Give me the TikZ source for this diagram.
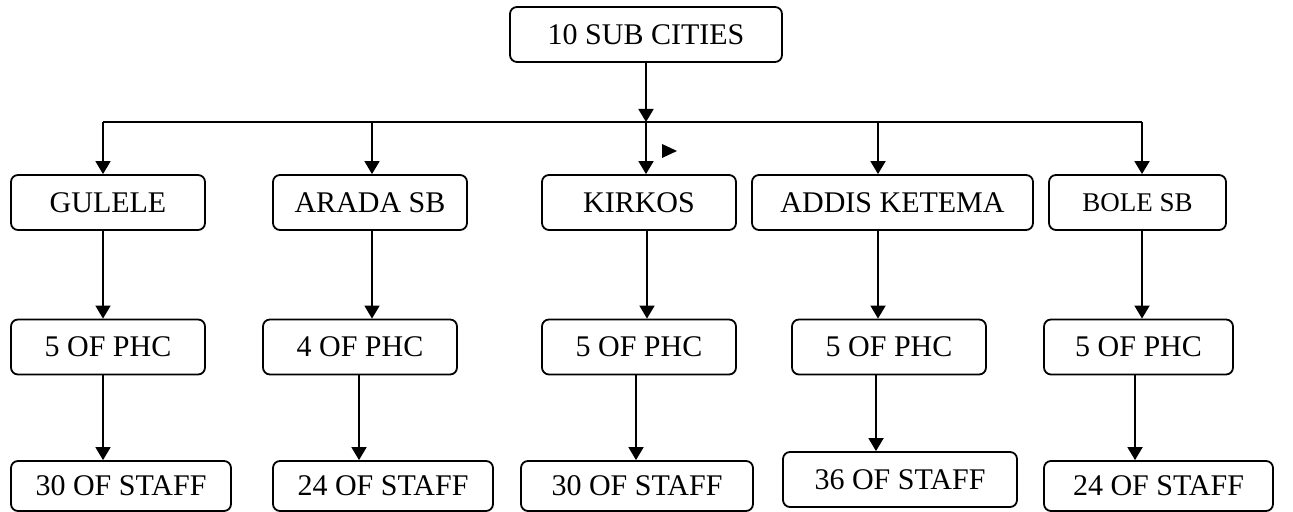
\documentclass[tikz,border=0pt]{standalone}
\usepackage{fontspec}
\setmainfont{Liberation Serif}
\usetikzlibrary{arrows.meta, positioning, calc}

\begin{document}
\begin{tikzpicture}[
    x=0.5pt, y=0.5pt,
    every node/.style={font=\fontsize{15}{18}\selectfont},
    box/.style={rectangle, rounded corners=3.5pt, draw, line width=0.9pt, align=center, inner sep=0pt, minimum height=27.5pt},
    arr/.style={-{Triangle[length=6.5pt, width=7.5pt]}, line width=0.9pt}
]
\useasboundingbox (0,0) rectangle (1293,512);

\node[box, minimum width=136pt] (top) at (646,477.5) {10 SUB CITIES};

% sub cities
\node[box, minimum width=97pt] (gul) at (108,309.5) {GULELE};
\node[box, minimum width=97pt] (arada) at (370,309.5) {ARADA SB};
\node[box, minimum width=97pt] (kirkos) at (639,309.5) {KIRKOS};
\node[box, minimum width=140.5pt] (addis) at (892.5,309.5) {ADDIS KETEMA};
\node[box, minimum width=88.5pt, font=\fontsize{13.5}{16}\selectfont] (bole) at (1137.5,309.5) {BOLE SB};

% health centres
\node[box, minimum width=97pt] (gulp) at (108,165) {5 OF PHC};
\node[box, minimum width=97pt] (aradap) at (360,165) {4 OF PHC};
\node[box, minimum width=97pt] (kirkosp) at (639,165) {5 OF PHC};
\node[box, minimum width=97pt] (addisp) at (889,165) {5 OF PHC};
\node[box, minimum width=94.5pt] (bolep) at (1138.5,165) {5 OF PHC};

% staff
\node[box, minimum width=110pt, minimum height=25pt] (gulst) at (121,26) {30 OF STAFF};
\node[box, minimum width=110pt, minimum height=25pt] (aradast) at (383,26) {24 OF STAFF};
\node[box, minimum width=116pt, minimum height=25pt] (kirkosst) at (637,26) {30 OF STAFF};
\node[box, minimum width=117pt] (addisst) at (900,32.5) {36 OF STAFF};
\node[box, minimum width=114.5pt, minimum height=25pt] (bolest) at (1158.5,26) {24 OF STAFF};

\coordinate (hub) at (646,390);

\draw[arr] (top.south) -- (hub);
\draw[line width=0.9pt] ($(gul.north |- hub)+(-2.5pt,0)$) -- ($(bole.north |- hub)+(2.25pt,0)$);

\draw[arr] ($(gul.north |- hub)+(-2.5pt,0)$) -- ($(gul.north)+(-2.5pt,0)$);
\draw[arr] ($(arada.north |- hub)+(1pt,0)$) -- ($(arada.north)+(1pt,0)$);
\draw[arr] (hub) -- (hub |- kirkos.north);
\draw[arr] ($(addis.north |- hub)+(-7.25pt,0)$) -- ($(addis.north)+(-7.25pt,0)$);
\draw[arr] ($(bole.north |- hub)+(2.25pt,0)$) -- ($(bole.north)+(2.25pt,0)$);

\draw[arr] ($(gul.south)+(-2.5pt,0)$) -- ($(gul.south |- gulp.north)+(-2.5pt,0)$);
\draw[arr] ($(arada.south)+(1pt,0)$) -- ($(arada.south |- aradap.north)+(1pt,0)$);
\draw[arr] ($(kirkos.south)+(4pt,0)$) -- ($(kirkos.south |- kirkosp.north)+(4pt,0)$);
\draw[arr] ($(addis.south)+(-7.25pt,0)$) -- ($(addis.south |- addisp.north)+(-7.25pt,0)$);
\draw[arr] ($(bole.south)+(2.25pt,0)$) -- ($(bole.south |- bolep.north)+(2.25pt,0)$);

\draw[arr] ($(gulp.south)+(-2.5pt,0)$) -- ($(gulp.south |- gulst.north)+(-2.5pt,0)$);
\draw[arr] ($(aradap.south)+(-0.5pt,0)$) -- ($(aradap.south |- aradast.north)+(-0.5pt,0)$);
\draw[arr] ($(kirkosp.south)+(-1.5pt,0)$) -- ($(kirkosp.south |- kirkosst.north)+(-1.5pt,0)$);
\draw[arr] ($(addisp.south)+(-6.5pt,0)$) -- ($(addisp.south |- addisst.north)+(-6.5pt,0)$);
\draw[arr] ($(bolep.south)+(-1.75pt,0)$) -- ($(bolep.south |- bolest.north)+(-1.75pt,0)$);

% stray marker
\fill (662,368) -- (677,361) -- (662,354) -- cycle;

\end{tikzpicture}
\end{document}
